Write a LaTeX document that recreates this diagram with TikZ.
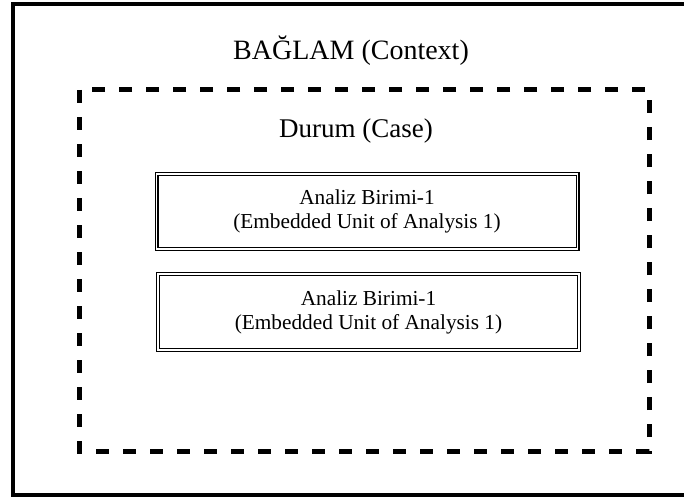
\documentclass[tikz,border=0pt]{standalone}
\usepackage{fontspec}
\setmainfont{Liberation Serif}

\begin{document}
\begin{tikzpicture}
	[x=1pt, y=-1pt,
	unit box/.style={draw, double, line width=1.2pt, double distance=1.6pt, minimum width=421pt, minimum height=75pt, align=center, inner sep=0pt, font=\fontsize{21.3}{24}\selectfont},
	title text/.style={inner sep=0pt, font=\fontsize{28}{32}\selectfont}]
	\useasboundingbox (0,0) rectangle (684,500);

	%context frame and case frame
	\draw[line width=4.5pt] (13,4) rectangle (688,495);
	\draw[line width=5pt, dash pattern=on 13pt off 14pt] (79,90) rectangle (649,451);

	\node[title text] (context) at (351,51) {BAĞLAM (Context)};
	\node[title text, font=\fontsize{27}{30}\selectfont] (case) at (356,131) {Durum (Case)};

	%embedded units
	\node[unit box] (unit1) at (367,211.5) {Analiz Birimi-1\\(Embedded Unit of Analysis 1)};
	\node[unit box, minimum height=76pt] (unit2) at (368.5,312) {Analiz Birimi-1\\(Embedded Unit of Analysis 1)};
\end{tikzpicture}
\end{document}
